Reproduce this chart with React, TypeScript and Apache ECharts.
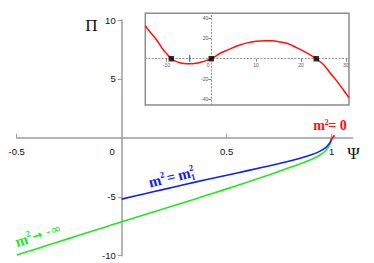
import React, { useEffect, useRef } from 'react';
import * as echarts from 'echarts';

// Main chart: Ψ (x) vs Π (y)
const blueX = [0, 0.1, 0.2, 0.3, 0.4, 0.5, 0.6, 0.7, 0.8, 0.85, 0.9, 0.94, 0.97, 0.99, 1.0];
const blueY = [-5.2, -4.78, -4.37, -3.96, -3.56, -3.17, -2.78, -2.39, -1.97, -1.73, -1.46, -1.17, -0.85, -0.45, -0.1];
const greenX = [-0.5, -0.4, -0.3, -0.2, -0.1, 0, 0.1, 0.2, 0.3, 0.4, 0.5, 0.6, 0.7, 0.8, 0.85, 0.9, 0.94, 0.97, 0.99, 1.0];
const greenY = [-9.94, -9.38, -8.81, -8.25, -7.69, -7.12, -6.57, -6.02, -5.46, -4.9, -4.33, -3.75, -3.15, -2.52, -2.2, -1.86, -1.5, -1.12, -0.6, -0.1];
const redX = [0.996, 1.006, 1.014];
const redY = [-0.15, 0.05, 0.2];

const mainXLabels = [-0.5, 0, 0.5, 1];
const mainXTicks = [-0.5, 0.5, 1];
const mainYLabels = [-10, -5, 5, 10];

// Inset: F(m²)
const fX = [-14.7, -13.5, -12, -10.8, -9.8, -8.9, -8, -7, -6, -4.8, -3.5, -2.2, -1, 0, 2, 4, 6, 8, 10, 12, 13.5, 15, 17, 19, 21, 23.4, 25, 26.5, 28, 29.5, 30.7];
const fY = [32.5, 25.5, 17.5, 9.3, 4.2, 0, -2.4, -3.9, -4.7, -5.0, -4.5, -3.2, -1.6, 0, 5.4, 9.2, 13, 15.6, 17.1, 17.7, 17.6, 16.8, 15, 11, 6.5, 0, -5.6, -14, -22, -31, -38.5];
const rootsX = [-8.9, 0, 23.4];
const rootsY = [0, 0, 0];
const m1X = [-4.8, -4.8];
const m1Y = [-3, 3.5];

const insetXLabels = [-10, 0, 10, 20, 30];
const insetXTicks = [-10, 10, 20, 30];
const insetYLabels = [-40, -20, 20, 40];

const zip = (a: number[], b: number[]) => a.map((v, i) => [v, b[i]]);

const SERIF = '"Liberation Serif", "DejaVu Serif", serif';
const SANS = '"Liberation Sans", Arial, sans-serif';
const DSANS = '"DejaVu Sans", sans-serif';

function piece(text: string, x: number, base: number, fs: number, fill: string, bold = true, family = SERIF) {
  return {
    type: 'text',
    x,
    y: base - 0.34 * fs,
    style: {
      text,
      fill,
      fontSize: fs,
      fontFamily: family,
      fontWeight: bold ? 'bold' : 'normal',
      align: 'left',
      verticalAlign: 'middle',
      textAlign: 'left',
      textVerticalAlign: 'middle',
    },
  };
}

// grid geometry (layout)
const MAIN = { left: 16.7, top: 20, width: 336, height: 235.7 };
const INSET = { left: 145.3, top: 13.3, width: 203.7, height: 91.7 };
const MX = [-0.5, 1.1];
const MY = [-10, 10];
const IX = [-14.7, 30.7];
const IY = [-45.5, 44.7];

// offsets so that axes cross at zero
const xOff = (g: any, ry: number[]) => -(g.height * (0 - ry[0])) / (ry[1] - ry[0]);
const yOff = (g: any, rx: number[]) => -(g.width * (0 - rx[0])) / (rx[1] - rx[0]);

export default function App() {
  const ref = useRef<HTMLDivElement>(null);
  useEffect(() => {
    const chart = echarts.init(ref.current!, null, { renderer: 'svg' });
    const axisGray = '#9c9c9c';
    const dotGray = '#8f8f8f';
    const option: any = {
      animation: false,
      backgroundColor: '#ffffff',
      grid: [
        { ...MAIN, containLabel: false, outerBoundsMode: 'none' },
        {
          ...INSET, show: true, outerBoundsMode: 'none',
          borderColor: '#8c8c8c', borderWidth: 1.5, backgroundColor: '#ffffff', z: 5,
        },
      ],
      xAxis: [
        {
          type: 'value', gridIndex: 0, min: MX[0], max: MX[1], position: 'bottom', offset: xOff(MAIN, MY),
          splitLine: { show: false },
          axisLine: { onZero: false, lineStyle: { color: axisGray, width: 1.5 } },
          axisTick: { show: true, customValues: mainXTicks, inside: true, length: 4, lineStyle: { color: axisGray, width: 1 } },
          axisLabel: {
            customValues: mainXLabels, fontSize: 9.5, fontFamily: SANS, color: '#111', margin: 9,
            formatter: (v: number) => (v === 0 ? '{z|0}' : String(v)),
            rich: { z: { fontSize: 9.5, fontFamily: SANS, color: '#111', padding: [0, 19, 0, 0] } },
          },
        },
        {
          type: 'value', gridIndex: 1, min: IX[0], max: IX[1], position: 'bottom', offset: xOff(INSET, IY),
          splitLine: { show: false },
          axisLine: { onZero: false, lineStyle: { color: dotGray, width: 1, type: [1.2, 2.2] } },
          axisTick: { show: true, customValues: insetXTicks, length: 3, lineStyle: { color: '#666', width: 0.8 } },
          axisLabel: {
            customValues: insetXLabels, fontSize: 5, fontFamily: SANS, color: '#555', margin: 4,
            formatter: (v: number) => (v === 0 ? '{z|0}' : String(v)),
            rich: { z: { fontSize: 5, fontFamily: SANS, color: '#555', padding: [0, 6, 0, 0] } },
          },
          z: 6,
        },
      ],
      yAxis: [
        {
          type: 'value', gridIndex: 0, min: MY[0], max: MY[1], position: 'left', offset: yOff(MAIN, MX),
          splitLine: { show: false },
          axisLine: { onZero: false, lineStyle: { color: axisGray, width: 1.5 } },
          axisTick: { show: true, customValues: mainYLabels, length: 4, lineStyle: { color: axisGray, width: 1 } },
          axisLabel: { customValues: mainYLabels, fontSize: 9.5, fontFamily: SANS, color: '#111', margin: 6 },
        },
        {
          type: 'value', gridIndex: 1, min: IY[0], max: IY[1], position: 'left', offset: yOff(INSET, IX),
          splitLine: { show: false },
          axisLine: { onZero: false, lineStyle: { color: dotGray, width: 1, type: [1.2, 2.2] } },
          axisTick: { show: true, customValues: insetYLabels, length: 3, lineStyle: { color: '#666', width: 0.8 } },
          axisLabel: { customValues: insetYLabels, fontSize: 5, fontFamily: SANS, color: '#555', margin: 3 },
          z: 6,
        },
      ],
      series: [
        {
          type: 'line', xAxisIndex: 0, yAxisIndex: 0, data: zip(greenX, greenY), smooth: 0.3,
          showSymbol: false, lineStyle: { color: '#22e622', width: 1.6 }, z: 3,
        },
        {
          type: 'line', xAxisIndex: 0, yAxisIndex: 0, data: zip(blueX, blueY), smooth: 0.3,
          showSymbol: false, lineStyle: { color: '#1020f0', width: 1.6 }, z: 4,
        },
        {
          type: 'line', xAxisIndex: 0, yAxisIndex: 0, data: zip(redX, redY), smooth: 0.3,
          showSymbol: false, lineStyle: { color: '#ff1010', width: 1.8 }, z: 5, clip: false,
        },
        {
          type: 'line', xAxisIndex: 1, yAxisIndex: 1, data: zip(fX, fY), smooth: 0.4,
          showSymbol: false, lineStyle: { color: '#ff1010', width: 1.5 }, z: 7,
        },
        {
          type: 'line', xAxisIndex: 1, yAxisIndex: 1, data: zip(m1X, m1Y),
          showSymbol: false, lineStyle: { color: '#1030f0', width: 1 }, z: 7,
        },
        {
          type: 'scatter', xAxisIndex: 1, yAxisIndex: 1, data: zip(rootsX, rootsY),
          symbol: 'rect', symbolSize: 5.5, itemStyle: { color: '#000' }, z: 8,
        },
      ],
      graphic: [
        {
          type: 'text', x: 91.5, y: 25,
          style: { text: 'Π', fill: '#111', fontSize: 17, fontFamily: SERIF, align: 'center', verticalAlign: 'middle', textAlign: 'center', textVerticalAlign: 'middle' },
        },
        {
          type: 'text', x: 353.5, y: 153,
          style: { text: 'Ψ', fill: '#111', fontSize: 17, fontFamily: SERIF, align: 'center', verticalAlign: 'middle', textAlign: 'center', textVerticalAlign: 'middle' },
        },
        {
          type: 'group', x: 313.3, y: 130.5, z: 20,
          children: [
            piece('m', 0, 0, 14, '#ff1010'),
            piece('2', 11.2, -6, 8.5, '#ff1010'),
            piece('= 0', 15, 0, 14, '#ff1010'),
          ],
        },
        {
          type: 'group', x: 150, y: 187.5, rotation: (13.5 * Math.PI) / 180, z: 20,
          children: [
            piece('m', 0, 0, 15, '#1020f0'),
            piece('2', 12.3, -6.5, 9, '#1020f0'),
            piece('=', 18.5, 0, 15, '#1020f0'),
            piece('m', 30, 0, 15, '#1020f0'),
            piece('2', 42.3, -6.5, 9, '#1020f0'),
            piece('1', 42.3, 3, 9, '#1020f0'),
          ],
        },
        {
          type: 'group', x: 17, y: 247, rotation: (17 * Math.PI) / 180, z: 20,
          children: [
            piece('m', 0, 0, 15, '#22e622'),
            piece('2', 12.3, -6.5, 9, '#22e622'),
            piece('→', 17.5, -1, 12, '#22e622', true, DSANS),
            piece('-∞', 32, -1.5, 13, '#22e622', false, DSANS),
          ],
        },
        {
          type: 'group', x: 251.7, y: 34.5, z: 20,
          children: [
            piece('F(m', 0, 0, 13, '#ff1010'),
            piece('2', 23.3, -5.8, 8, '#ff1010'),
            piece(')', 28, 0, 13, '#ff1010'),
          ],
        },
        {
          type: 'group', x: 183, y: 53.3, z: 20,
          children: [
            piece('m', 0, 0, 13, '#1020f0'),
            piece('2', 11, -7, 8, '#1020f0'),
            piece('1', 11, 2.3, 8, '#1020f0'),
          ],
        },
      ],
    };
    chart.setOption(option);
    return () => chart.dispose();
  }, []);
  return (
    <div
      ref={ref}
      style={{ position: 'fixed', left: 0, top: 0, width: 374, height: 263, background: '#fff' }}
    />
  );
}
